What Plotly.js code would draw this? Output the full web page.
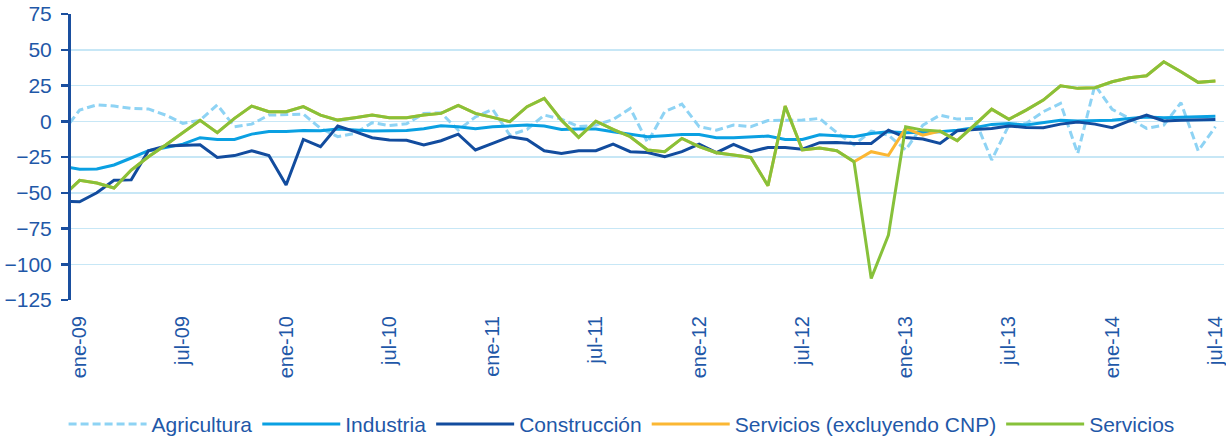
<!DOCTYPE html>
<html>
<head>
<meta charset="utf-8">
<script src="https://cdn.plot.ly/plotly-3.0.1.min.js"></script>
<style>html,body{margin:0;padding:0;background:#fff;}#chart{width:1226px;height:441px;}</style>
</head>
<body>
<div id="chart"></div>
<script>
// Monthly categories: dic-08 (partly clipped at the axis) to jul-14
const months = ['dic-08',
 'ene-09','feb-09','mar-09','abr-09','may-09','jun-09','jul-09','ago-09','sep-09','oct-09','nov-09','dic-09',
 'ene-10','feb-10','mar-10','abr-10','may-10','jun-10','jul-10','ago-10','sep-10','oct-10','nov-10','dic-10',
 'ene-11','feb-11','mar-11','abr-11','may-11','jun-11','jul-11','ago-11','sep-11','oct-11','nov-11','dic-11',
 'ene-12','feb-12','mar-12','abr-12','may-12','jun-12','jul-12','ago-12','sep-12','oct-12','nov-12','dic-12',
 'ene-13','feb-13','mar-13','abr-13','may-13','jun-13','jul-13','ago-13','sep-13','oct-13','nov-13','dic-13',
 'ene-14','feb-14','mar-14','abr-14','may-14','jun-14','jul-14'];

const tickLabels = ['ene-09','jul-09','ene-10','jul-10','ene-11','jul-11','ene-12','jul-12','ene-13','jul-13','ene-14','jul-14'];

const agricultura = [-7.8,
 7.8,11.5,10.6,9,8.6,4.3,-1.5,0.7,11.5,-3.8,-2,4.3,
 4.8,5,-5,-10.8,-8.5,-1,-3,-1.8,5.4,5.9,-6.2,3,
 8.3,-9.7,-5.7,4.3,1.5,-3.8,-2.7,1.2,9,-14.8,6.7,12,
 -3.8,-6.2,-2.7,-3.8,0.5,0.8,0.8,2,-8,-16.6,-6.9,-9.7,
 -20.1,-2.7,4.3,1.5,2,-27.1,-2.7,-1.6,6.7,12.5,-22.5,25.3,
 8.3,2,-5,-2.7,13,-20.6,-3.8];

const industria = [-31.4,
 -33.6,-33.4,-30.6,-25.7,-20.6,-18.3,-16,-11.5,-12.7,-12.7,-9,-7.1,
 -7.1,-6.4,-6.6,-5.4,-6.4,-6.9,-6.6,-6.4,-5.2,-3.1,-3.8,-5.2,
 -3.8,-3.3,-2.7,-3.3,-5.7,-5.4,-5.4,-7.3,-9.2,-10.8,-10.1,-9.2,
 -9.2,-11.5,-11.5,-10.8,-10.4,-12.7,-12.7,-9.5,-10.1,-10.8,-8.5,-7.3,
 -8,-7.8,-7.3,-6.2,-4.5,-2.2,-1.6,-2.7,-1.1,0.7,0.2,0.2,
 0.7,1.9,3,2.5,3,3,3.5];

const construccion = [-56,
 -56.3,-50,-41.3,-41,-20.6,-17.3,-17.1,-16.4,-25.3,-24,-20.6,-23.9,
 -44.6,-12.7,-17.8,-3.4,-7.3,-11.5,-13.1,-13.3,-16.6,-13.6,-9,-20.1,
 -15.5,-10.8,-12.7,-20.6,-22.5,-20.6,-20.6,-16,-21.3,-21.8,-24.8,-21.3,
 -16,-22,-16.2,-21.3,-18.3,-18.3,-19.5,-15,-14.8,-15.5,-15.5,-6.2,
 -11.3,-12.4,-15.5,-6.6,-5.7,-5,-3.3,-4.3,-4.5,-2,-0.5,-2,
 -4.5,0.2,4.3,0.2,0.7,1.2,1.2];

const serviciosExclCNP = [-52.7,
 -41.3,-43.2,-46.7,-34.1,-24.8,-16.6,-8,0.6,-8,2,10.6,6.7,
 6.7,10.2,4.3,0.8,2.5,4.3,2.5,2.5,4.3,5.5,11.1,5.5,
 2.7,-0.3,10.2,16,0.7,-11.3,0,-5.7,-10.8,-20.1,-21.3,-12,
 -17.8,-22,-23.6,-25.3,-45.1,10.6,-20.1,-18.8,-20.6,-28.3,-21.3,-23.9,
 -5,-9.7,-6.9,-13.6,-2.7,8.5,1.4,7.8,14.8,24.8,23,23.4,
 27.6,30.4,31.8,41.6,34.6,27.2,28.1];

const servicios = [-52.7,
 -41.3,-43.2,-46.7,-34.1,-24.8,-16.6,-8,0.6,-8,2,10.6,6.7,
 6.7,10.2,4.3,0.8,2.5,4.3,2.5,2.5,4.3,5.5,11.1,5.5,
 2.7,-0.3,10.2,16,0.7,-11.3,0,-5.7,-10.8,-20.1,-21.3,-12,
 -17.8,-22,-23.6,-25.3,-45.1,10.6,-20.1,-18.8,-20.6,-28.3,-109.9,-79.6,
 -3.8,-6.2,-6.9,-13.6,-2.7,8.5,1.4,7.8,14.8,24.8,23,23.4,
 27.6,30.4,31.8,41.6,34.6,27.2,28.1];

// position index: ene-09 = 0
const xs = months.map((m, i) => i - 1);
const tickVals = tickLabels.map(l => months.indexOf(l) - 1);
const boundaryTicks = tickVals.map(v => v - 0.5);

const darkBlue = '#1A4F9F';
const textBlue = '#1F58A8';
const font = 'Arial, "Liberation Sans", sans-serif';

function tr(name, y, color, width, dash) {
  return {
    type: 'scatter', mode: 'lines', name: name, x: xs, y: y,
    line: {color: color, width: width, dash: dash || 'solid'},
    hoverinfo: 'x+y+name'
  };
}

const data = [
  tr('Agricultura', agricultura, '#8ED3F4', 3, '8px,4px'),
  tr('Industria', industria, '#0AA0E2', 3),
  tr('Construcción', construccion, '#124C9E', 3),
  tr('Servicios (excluyendo CNP)', serviciosExclCNP, '#FBB733', 3),
  tr('Servicios', servicios, '#87C13A', 3)
];

const layout = {
  width: 1226, height: 441,
  margin: {l: 71, r: 2, t: 14, b: 141},
  paper_bgcolor: '#ffffff', plot_bgcolor: '#ffffff',
  font: {family: font, color: textBlue, size: 20},
  showlegend: true,
  legend: {
    orientation: 'h', xref: 'container', yref: 'container',
    x: 0.507, xanchor: 'center', y: 0.038, yanchor: 'middle',
    font: {family: font, size: 21, color: textBlue},
    itemwidth: 78, itemclick: false, itemdoubleclick: false,
    traceorder: 'normal'
  },
  xaxis: {
    range: [-0.5, 66.5], fixedrange: true, automargin: false,
    tickmode: 'array', tickvals: tickVals, ticktext: tickLabels,
    tickangle: -90, ticks: '', showgrid: false, zeroline: false, showline: false,
    ticklabelstandoff: 11,
    tickfont: {family: font, size: 20, color: textBlue}
  },
  xaxis2: {
    overlaying: 'x', matches: 'x', range: [-0.5, 66.5], anchor: 'free', position: 0.625,
    side: 'bottom', showline: true, linecolor: darkBlue, linewidth: 3, automargin: false,
    tickmode: 'array', tickvals: boundaryTicks, ticks: 'outside', ticklen: 6, tickwidth: 2.5, tickcolor: darkBlue,
    showticklabels: false, showgrid: false, zeroline: false, layer: 'below traces'
  },
  yaxis: {
    range: [-125, 75], fixedrange: true, automargin: false,
    tickmode: 'array', tickvals: [-125,-100,-75,-50,-25,0,25,50,75],
    ticks: 'outside', ticklen: 7, tickwidth: 2.5, tickcolor: darkBlue,
    showline: true, linecolor: darkBlue, linewidth: 3,
    showgrid: true, gridcolor: '#C7E7F6', gridwidth: 1.5,
    zeroline: false, ticklabelstandoff: 5,
    tickfont: {family: font, size: 21, color: textBlue}
  }
};

Plotly.newPlot('chart', data, layout, {displayModeBar: false, staticPlot: true});
</script>
</body>
</html>
